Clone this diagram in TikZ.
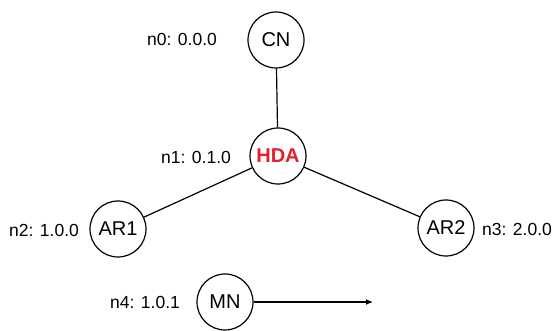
\documentclass[tikz,border=0pt]{standalone}
\usepackage{fontspec}
\setmainfont{Liberation Sans}
\usetikzlibrary{arrows.meta}
\definecolor{hdared}{RGB}{228,32,42}
\tikzset{
  netnode/.style={circle,draw,line width=1.2pt,minimum size=56pt,inner sep=0pt,font=\fontsize{20}{23}\selectfont},
  addr/.style={font=\fontsize{17.5}{20}\selectfont,inner sep=0pt},
  link/.style={line width=1.2pt}
}
\begin{document}
\begin{tikzpicture}[x=1pt,y=-1pt]
\useasboundingbox (0,0) rectangle (555,331);
\node[netnode] (cn) at (276,40) {CN};
\node[netnode] (hda) at (278,156) {\textcolor{hdared}{\bfseries HDA}};
\node[netnode] (ar1) at (118,229) {AR1};
\node[netnode] (ar2) at (446,228) {AR2};
\node[netnode] (mn) at (225,302) {MN};
\coordinate (mnend) at (373,302);
\node[addr] (l0) at (182,39) {n0: 0.0.0};
\node[addr] (l1) at (196,157) {n1: 0.1.0};
\node[addr] (l2) at (44,230) {n2: 1.0.0};
\node[addr] (l3) at (517,229) {n3: 2.0.0};
\node[addr] (l4) at (145,302) {n4: 1.0.1};
\draw[link] (cn) -- (hda);
\draw[link] (hda) -- (ar1);
\draw[link] (hda) -- (ar2);
\draw[link,-{Latex[length=7pt,width=6pt]}] (mn) -- (mnend);
\end{tikzpicture}
\end{document}
